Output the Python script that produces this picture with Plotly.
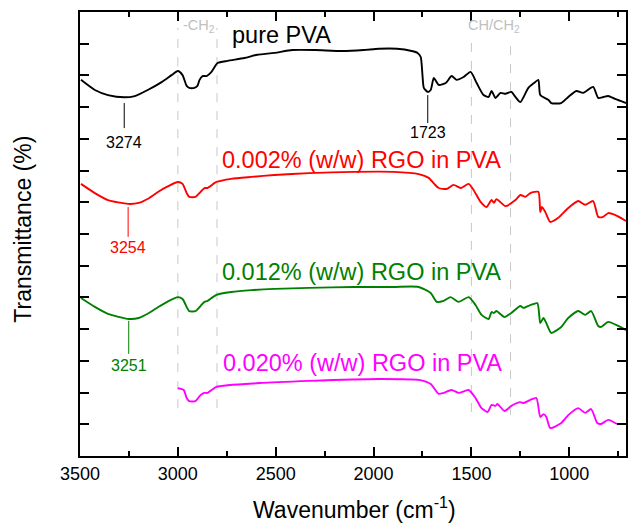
import plotly.graph_objects as go

# FTIR spectra, transmittance in stacked (offset) units
pva_wn = [3495, 3424, 3357, 3274, 3220, 3154, 3083, 3032, 3000, 2976, 2955, 2942, 2915, 2900,
          2889, 2874, 2853, 2828, 2797, 2746, 2660, 2594, 2507, 2415, 2300, 2161, 2050, 1973,
          1880, 1805, 1775, 1759, 1750, 1743, 1723, 1708, 1692, 1667, 1631, 1601, 1575, 1540,
          1504, 1473, 1438, 1412, 1397, 1377, 1351, 1326, 1296, 1275, 1250, 1209, 1180, 1158,
          1148, 1107, 1092, 1041, 1005, 964, 929, 878, 852, 825, 801, 766, 710]
pva_t = [11.86, 11.54, 11.38, 11.31, 11.35, 11.54, 11.79, 12.01, 12.14, 12.01, 11.67, 11.61,
         11.61, 11.67, 11.86, 11.98, 11.98, 12.11, 12.39, 12.46, 12.55, 12.65, 12.71, 12.80,
         12.80, 12.77, 12.80, 12.84, 12.84, 12.77, 12.71, 12.58, 12.01, 11.61, 11.48, 11.54,
         11.92, 11.70, 11.76, 11.98, 11.86, 11.95, 12.11, 11.76, 11.38, 11.32, 11.51, 11.29,
         11.45, 11.42, 11.48, 11.32, 11.16, 11.61, 11.76, 11.86, 11.38, 11.23, 11.13, 11.13,
         11.32, 11.51, 11.45, 11.64, 11.29, 11.32, 11.35, 11.26, 11.13]

rgo002_wn = [3495, 3424, 3357, 3254, 3200, 3150, 3100, 3052, 3000, 2976, 2955, 2942, 2910, 2884,
             2864, 2848, 2803, 2727, 2624, 2507, 2330, 2100, 1900, 1769, 1718, 1690, 1667, 1626,
             1591, 1555, 1514, 1489, 1453, 1423, 1397, 1385, 1372, 1326, 1275, 1250, 1224, 1199,
             1158, 1148, 1140, 1122, 1097, 1056, 1005, 954, 919, 878, 852, 827, 801, 766, 710]
rgo002_t = [8.58, 8.29, 8.07, 7.95, 7.98, 8.12, 8.33, 8.50, 8.64, 8.58, 8.29, 8.17, 8.17, 8.33,
            8.45, 8.45, 8.64, 8.74, 8.80, 8.86, 8.92, 8.96, 8.96, 8.89, 8.77, 8.58, 8.45, 8.42,
            8.55, 8.45, 8.58, 8.39, 8.01, 7.85, 8.07, 7.98, 8.10, 7.88, 8.07, 8.23, 8.17, 8.29,
            8.33, 7.69, 7.85, 7.69, 7.38, 7.51, 7.82, 8.04, 7.92, 8.04, 7.54, 7.54, 7.66, 7.60,
            7.41]

rgo012_wn = [3495, 3424, 3357, 3251, 3200, 3150, 3100, 3052, 3000, 2976, 2955, 2942, 2910, 2884,
             2864, 2848, 2803, 2727, 2624, 2507, 2330, 2100, 1900, 1769, 1708, 1677, 1642, 1606,
             1565, 1514, 1479, 1448, 1412, 1397, 1385, 1372, 1331, 1296, 1250, 1234, 1199, 1163,
             1148, 1132, 1117, 1092, 1041, 1005, 954, 919, 888, 852, 837, 801, 750, 710]
rgo012_t = [4.98, 4.70, 4.48, 4.32, 4.35, 4.50, 4.70, 4.87, 5.01, 4.95, 4.70, 4.57, 4.57, 4.73,
            4.86, 4.89, 5.08, 5.17, 5.23, 5.27, 5.30, 5.33, 5.33, 5.33, 5.14, 4.86, 4.89, 5.01,
            4.86, 5.01, 4.76, 4.45, 4.32, 4.54, 4.51, 4.57, 4.38, 4.51, 4.73, 4.67, 4.76, 4.82,
            4.19, 4.35, 4.19, 3.88, 4.07, 4.35, 4.57, 4.45, 4.57, 4.10, 4.07, 4.23, 4.10, 3.97]

rgo020_wn = [3000, 2970, 2955, 2942, 2910, 2884, 2864, 2848, 2803, 2584, 2330, 1973, 1769, 1708,
             1667, 1642, 1601, 1565, 1514, 1479, 1448, 1417, 1397, 1377, 1367, 1331, 1296, 1250,
             1234, 1199, 1168, 1148, 1132, 1117, 1097, 1041, 1005, 954, 919, 888, 857, 837, 801,
             756]
rgo020_t = [2.14, 2.08, 1.83, 1.73, 1.73, 1.92, 1.99, 1.99, 2.18, 2.30, 2.37, 2.43, 2.40, 2.27,
            1.96, 1.99, 2.08, 1.99, 2.08, 1.83, 1.51, 1.39, 1.61, 1.58, 1.64, 1.42, 1.58, 1.70,
            1.67, 1.77, 1.83, 1.23, 1.32, 1.23, 0.88, 1.04, 1.29, 1.51, 1.36, 1.48, 1.04, 1.01,
            1.14, 1.01]

series_names = ["pure PVA", "0.002% (w/w) RGO in PVA", "0.012% (w/w) RGO in PVA",
                "0.020% (w/w) RGO in PVA"]
series_colors = ["black", "#ff0000", "#008000", "#ff00ff"]
series_wn = [pva_wn, rgo002_wn, rgo012_wn, rgo020_wn]
series_t = [pva_t, rgo002_t, rgo012_t, rgo020_t]
# label anchors (left edge wavenumber, vertical centre)
label_wn = [2736, 2787, 2787, 2777]
label_t = [13.28, 9.33, 5.80, 2.93]

# marked band positions: (wavenumber, line top, line bottom, text centre, colour)
peak_wn = [3274, 1723, 3254, 3251]
peak_line_top = [11.13, 11.38, 7.85, 4.26]
peak_line_bot = [10.34, 10.50, 6.91, 3.22]
peak_text_t = [9.87, 10.19, 6.56, 2.84]
peak_colors = ["black", "black", "#ff0000", "#008000"]

# grey guide lines bounding the CH2 and CH/CH2 regions
guide_wn = [3000, 2800, 1500, 1300]
guide_top = [13.5, 13.5, 13.21, 13.21]
guide_bot = [1.51, 1.51, 1.39, 1.29]
guide_text = ["-CH<sub>2</sub>", "CH/CH<sub>2</sub>"]
guide_text_wn = [2894, 1382]

FONT = "Arial, Liberation Sans, sans-serif"

fig = go.Figure()
for wn, t, c, n in zip(series_wn, series_t, series_colors, series_names):
    fig.add_trace(go.Scatter(x=wn, y=t, mode="lines", name=n,
                             line=dict(color=c, width=1.9, shape="spline", smoothing=0.6),
                             showlegend=False, hoverinfo="skip"))

shapes = []
for w, a, b in zip(guide_wn, guide_top, guide_bot):
    shapes.append(dict(type="line", xref="x", yref="y", x0=w, x1=w, y0=b, y1=a,
                       line=dict(color="#c8c8c8", width=1, dash="dash"), layer="below"))
for w, a, b, c in zip(peak_wn, peak_line_top, peak_line_bot, peak_colors):
    shapes.append(dict(type="line", xref="x", yref="y", x0=w, x1=w, y0=b, y1=a,
                       line=dict(color=c, width=1)))

annotations = []
for n, c, w, t in zip(series_names, series_colors, label_wn, label_t):
    annotations.append(dict(x=w, y=t, xref="x", yref="y", text=n, showarrow=False,
                            xanchor="left", yanchor="middle",
                            font=dict(family=FONT, size=23.5, color=c)))
for w, t, c in zip(peak_wn, peak_text_t, peak_colors):
    annotations.append(dict(x=w, y=t, xref="x", yref="y", text=str(w), showarrow=False,
                            xanchor="center", yanchor="middle",
                            font=dict(family=FONT, size=16, color=c)))
for txt, w in zip(guide_text, guide_text_wn):
    annotations.append(dict(x=w, y=13.55, xref="x", yref="y", text=txt, showarrow=False,
                            xanchor="center", yanchor="middle",
                            font=dict(family=FONT, size=14.5, color="#c0c0c0")))
annotations.append(dict(x=0.502, y=-0.118, xref="paper", yref="paper",
                        text="Wavenumber (cm<sup>-1</sup>)", showarrow=False,
                        xanchor="center", yanchor="middle",
                        font=dict(family=FONT, size=23, color="black")))
annotations.append(dict(x=-0.106, y=0.51, xref="paper", yref="paper",
                        text="Transmittance (%)", showarrow=False, textangle=-90,
                        xanchor="center", yanchor="middle",
                        font=dict(family=FONT, size=23, color="black")))

fig.update_layout(
    width=629, height=523,
    margin=dict(l=80, r=1, t=12, b=67),
    paper_bgcolor="white", plot_bgcolor="white",
    shapes=shapes, annotations=annotations,
    xaxis=dict(range=[3500, 710], tickvals=[3500, 3000, 2500, 2000, 1500, 1000],
               ticks="inside", ticklen=9, tickwidth=1.5, tickcolor="black",
               showline=True, linewidth=2, linecolor="black", mirror="ticks",
               showgrid=False, zeroline=False,
               tickfont=dict(family=FONT, size=18, color="black"),
               minor=dict(tickvals=[3250, 2750, 2250, 1750, 1250, 750], ticks="inside",
                          ticklen=5, tickwidth=1.5, tickcolor="black", showgrid=False)),
    yaxis=dict(range=[0, 14], dtick=1, tick0=0, ticks="inside", ticklen=9, tickwidth=1.5,
               tickcolor="black", showticklabels=False,
               showline=True, linewidth=2, linecolor="black", mirror="ticks",
               showgrid=False, zeroline=False),
)

fig.write_html("out.html")
